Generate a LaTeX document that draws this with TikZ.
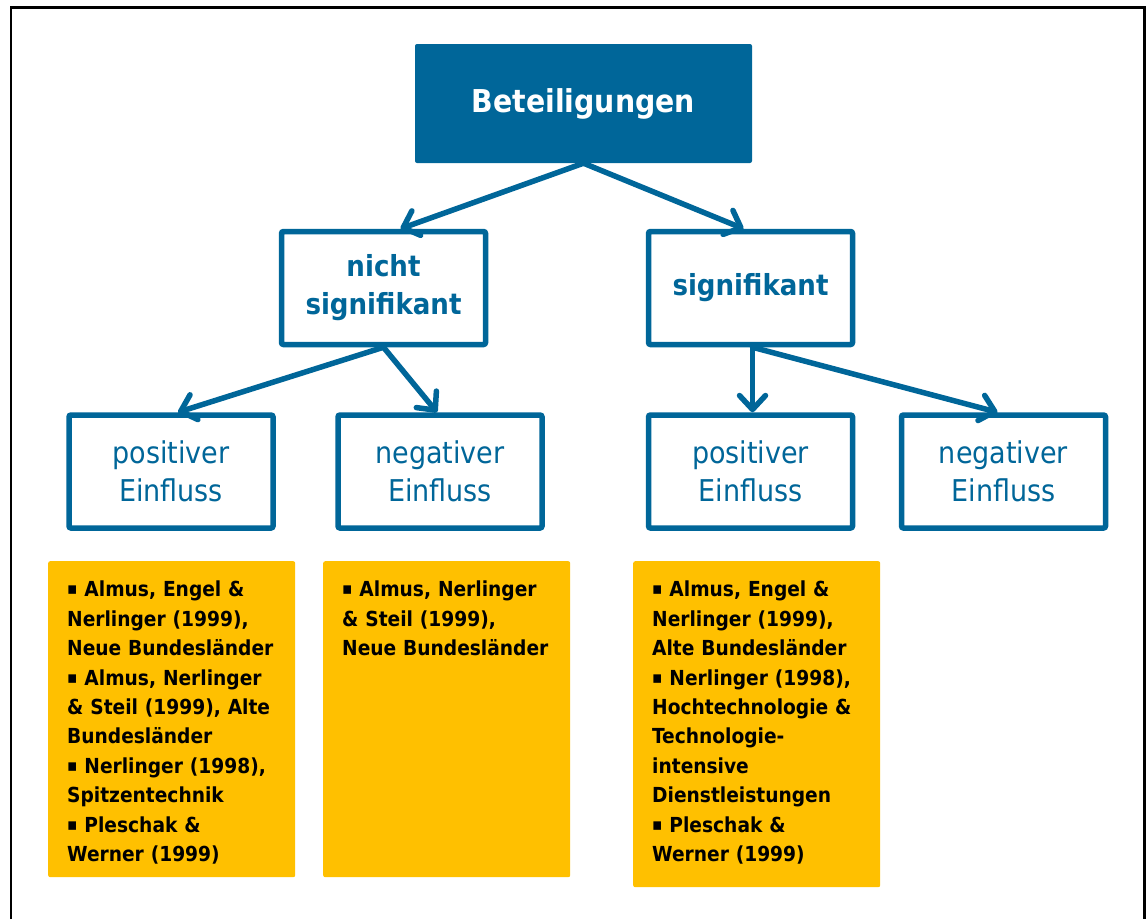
\documentclass[tikz,border=0pt]{standalone}
\usepackage{fontspec}
\setmainfont{DejaVu Sans Condensed}
\usepackage{tikz}
\usetikzlibrary{arrows.meta}

\definecolor{uniblue}{RGB}{0,102,153}
\definecolor{uniyellow}{RGB}{255,192,0}

\tikzset{
  headbox/.style={fill=uniblue, text=white, font=\bfseries\fontsize{31.5}{36}\selectfont,
    minimum width=337pt, minimum height=119pt, rounded corners=2pt, inner sep=0pt},
  sigbox/.style={draw=uniblue, line width=5.5pt, fill=white, text=uniblue,
    font=\bfseries\fontsize{29}{38}\selectfont, align=center,
    minimum width=204pt, minimum height=113pt, rounded corners=2pt, inner sep=0pt},
  effbox/.style={sigbox, font=\fontsize{30}{38}\selectfont},
  litbox/.style={fill=uniyellow, rounded corners=2pt, inner xsep=19pt, inner ysep=20pt,
    anchor=north west, font=\bfseries\fontsize{20.7}{29.4}\selectfont},
  arr/.style={draw=uniblue, line width=5.5pt, line cap=round, line join=round,
    -{Straight Barb[length=14pt, width=26pt, round]}}
}

\newcommand{\litlist}[2]{\parbox[t][#1][t]{220pt}{\raggedright #2}}
\newcommand{\litbullet}{\raisebox{2pt}{\fontsize{17}{17}\selectfont ▪}}

\begin{document}
\begin{tikzpicture}[x=1pt, y=-1pt]
  \useasboundingbox (0,0) rectangle (1146,919);

  % Rahmen
  \draw [line width=2.5pt] (11,919) -- (11,7.5) -- (1144.5,7.5) -- (1144.5,919);

  % Ebenen
  \node [headbox] (beteil) at (583.5,103.5) {Beteiligungen};

  \node [sigbox] (nsig) at (383.5,288) {nicht\\signifikant};
  \node [sigbox] (sig) at (750.5,288) {signifikant};

  \node [effbox] (nsigpos) at (171,471.5) {positiver\\Einfluss};
  \node [effbox] (nsigneg) at (440,471.5) {negativer\\Einfluss};
  \node [effbox] (sigpos) at (750.5,471.5) {positiver\\Einfluss};
  \node [effbox] (signeg) at (1003.5,471.5) {negativer\\Einfluss};

  % Pfeile
  \draw [arr] (beteil.south) -- ([xshift=17pt]nsig.north);
  \draw [arr] (beteil.south) -- ([xshift=-7pt]sig.north);
  \draw [arr] (nsig.south) -- ([xshift=7pt]nsigpos.north);
  \draw [arr] (nsig.south) -- ([xshift=-3pt]nsigneg.north);
  \draw [arr] ([xshift=2pt]sig.south) -- ([xshift=2pt]sigpos.north);
  \draw [arr] ([xshift=2pt]sig.south) -- ([xshift=-6pt]signeg.north);

  % Literatur
  \node [litbox, text width=209pt] (litnsigpos) at (48,561) {\litlist{276pt}{%
    \litbullet{} Almus, Engel \&\\ Nerlinger (1999),\\ Neue Bundesländer\\
    \litbullet{} Almus, Nerlinger\\ \& Steil (1999), Alte\\ Bundesländer\\
    \litbullet{} Nerlinger (1998),\\ Spitzentechnik\\
    \litbullet{} Pleschak \&\\ Werner (1999)}};
  \node [litbox, text width=209pt] (litnsigneg) at (323,561) {\litlist{276pt}{%
    \litbullet{} Almus, Nerlinger\\ \& Steil (1999),\\ Neue Bundesländer}};
  \node [litbox, text width=209pt] (litsigpos) at (633,561) {\litlist{286pt}{%
    \litbullet{} Almus, Engel \&\\ Nerlinger (1999),\\ Alte Bundesländer\\
    \litbullet{} Nerlinger (1998),\\ Hochtechnologie \&\\ Technologie-\\ intensive\\ Dienstleistungen\\
    \litbullet{} Pleschak \&\\ Werner (1999)}};
\end{tikzpicture}
\end{document}
